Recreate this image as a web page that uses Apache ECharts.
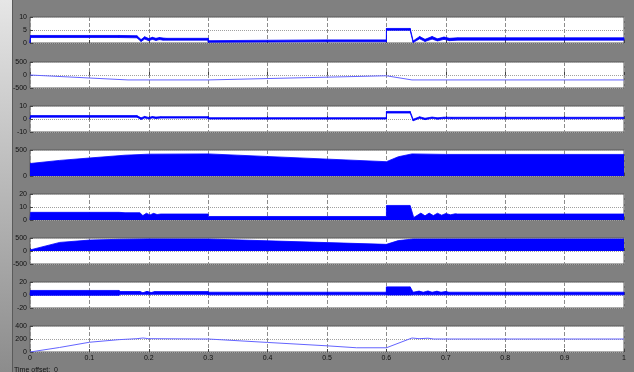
<!DOCTYPE html>
<html>
<head>
<meta charset="utf-8">
<script src="https://cdn.jsdelivr.net/npm/echarts/dist/echarts.min.js"></script>
<style>
  html, body { margin: 0; padding: 0; background: #808080; }
  #chart { width: 634px; height: 372px; }
</style>
</head>
<body>
<div id="chart"></div>
<script>
// x axis (time, s)
const xTicks = [0, 0.1, 0.2, 0.3, 0.4, 0.5, 0.6, 0.7, 0.8, 0.9, 1];

// y ranges per scope panel (top to bottom)
const yMin  = [0, -500, -10, 0, 0, -500, -20, 0];
const yMax  = [10, 500, 10, 500, 20, 500, 20, 400];
const yStep = [5, 500, 10, 500, 10, 500, 20, 200];

// panel 1 : fast ripple drawn as a band (low / high envelope)
const p1T  = [0, 0.001, 0.15, 0.18, 0.187, 0.193, 0.2, 0.206, 0.212, 0.218, 0.224, 0.23, 0.3, 0.3001, 0.5, 0.6, 0.6001, 0.64, 0.645, 0.656, 0.665, 0.677, 0.686, 0.697, 0.706, 0.72, 1];
const p1Lo = [0, 2.1, 2.1, 2.0, 0.6, 1.5, 0.9, 1.4, 1.0, 1.3, 1.1, 1.1, 1.1, 0.3, 0.5, 0.5, 4.9, 4.9, 0.2, 1.6, 0.6, 1.5, 0.8, 1.4, 0.9, 1.1, 1.1];
const p1Hi = [0, 2.9, 2.9, 2.8, 1.3, 2.4, 1.7, 2.2, 1.8, 2.1, 1.9, 1.8, 1.8, 0.9, 1.2, 1.2, 5.6, 5.6, 0.8, 2.5, 1.4, 2.5, 1.6, 2.3, 1.8, 2.0, 2.0];

// panel 2 : thin line
const p2T = [0, 0.165, 0.3, 0.6, 0.643, 1];
const p2V = [0, -190, -190, -30, -190, -190];

// panel 3 : band
const p3T  = [0, 0.001, 0.18, 0.187, 0.193, 0.2, 0.206, 0.212, 0.22, 0.3, 0.3001, 0.6, 0.6001, 0.64, 0.645, 0.656, 0.665, 0.677, 0.686, 0.697, 0.71, 1];
const p3Lo = [0, 1.4, 1.4, -0.3, 0.8, 0.1, 0.8, 0.4, 0.7, 0.7, 0, 0, 4.6, 4.6, -1.4, 0.6, -0.5, 0.5, -0.1, 0.4, 0.2, 0.2];
const p3Hi = [0, 2.6, 2.6, 0.9, 2.0, 1.2, 1.9, 1.5, 1.8, 1.8, 1.0, 1.0, 5.8, 5.8, -0.2, 1.7, 0.6, 1.5, 0.9, 1.4, 1.3, 1.3];

// panel 4 : filled envelope from 0
const p4T = [0, 0.05, 0.1, 0.16, 0.2, 0.3, 0.6, 0.62, 0.643, 0.7, 1];
const p4V = [240, 300, 346, 400, 420, 425, 275, 370, 425, 415, 415];

// panel 5 : filled envelope from 0
const p5T = [0, 0.001, 0.15, 0.16, 0.185, 0.19, 0.196, 0.202, 0.208, 0.214, 0.22, 0.3, 0.3001, 0.6, 0.6001, 0.64, 0.646, 0.658, 0.665, 0.672, 0.679, 0.686, 0.693, 0.7, 0.708, 0.716, 0.72, 1];
const p5V = [0, 5.9, 5.9, 5.6, 5.6, 3.4, 5.2, 3.9, 5.1, 4.2, 4.6, 4.6, 2.7, 2.7, 11.2, 11.2, 1.9, 5.3, 3.2, 5.3, 3.4, 5.2, 3.7, 5.0, 4.0, 4.8, 4.6, 4.6];

// panel 6 : filled envelope from 0
const p6T = [0, 0.05, 0.1, 0.15, 0.2, 0.3, 0.6, 0.62, 0.645, 0.7, 1];
const p6V = [40, 330, 420, 450, 465, 460, 255, 400, 460, 460, 460];

// panel 7 : band
const p7T  = [0, 0.001, 0.15, 0.1501, 0.185, 0.19, 0.197, 0.204, 0.21, 0.3, 0.3001, 0.6, 0.6001, 0.64, 0.645, 0.655, 0.662, 0.67, 0.677, 0.685, 0.692, 0.7, 0.705, 1];
const p7Lo = [0, -0.5, -0.5, 1.0, 1.0, 1.0, 1.0, 1.0, 1.0, 1.0, 0.3, 0.3, 0.0, 0.0, 0.3, 0.3, 0.3, 0.3, 0.3, 0.3, 0.3, 0.3, 0.3, 0.3];
const p7Hi = [0, 7.0, 7.0, 5.4, 5.4, 3.5, 5.6, 3.8, 5.2, 5.2, 4.3, 4.3, 12.5, 12.5, 4.3, 6.0, 4.3, 6.2, 4.3, 5.8, 4.3, 5.4, 4.3, 4.3];

// panel 8 : thin line
const p8T = [0, 0.05, 0.1, 0.15, 0.18, 0.19, 0.2, 0.3, 0.4, 0.5, 0.55, 0.6, 0.643, 0.655, 0.67, 0.68, 1];
const p8V = [0, 70, 150, 190, 205, 215, 205, 200, 147, 95, 65, 65, 215, 205, 212, 200, 200];

const BLUE = '#0000ff';
const THIN = '#6464ff';
const tops = [17, 62, 106, 150, 194, 238, 282, 326];
const H = 26;
const font = { fontSize: 7, color: '#111', fontFamily: 'Liberation Sans' };

const pairs = (t, v) => t.map((x, k) => [x, v[k]]);

// band between two envelopes: one quad per segment, placed by the axes
function band(i, t, lo, hi) {
  const segs = [];
  for (let k = 0; k < t.length - 1; k++) {
    segs.push([t[k], lo[k], hi[k], t[k + 1], lo[k + 1], hi[k + 1]]);
  }
  return {
    type: 'custom', xAxisIndex: i, yAxisIndex: i, silent: true,
    encode: { x: [0, 3], y: [1, 2, 4, 5] },
    data: segs,
    renderItem: function (params, api) {
      const a = api.coord([api.value(0), api.value(1)]);
      const b = api.coord([api.value(3), api.value(4)]);
      const c = api.coord([api.value(3), api.value(5)]);
      const d = api.coord([api.value(0), api.value(2)]);
      return { type: 'polygon', shape: { points: [a, b, c, d] },
        style: { fill: BLUE, stroke: BLUE, lineWidth: 0.8 } };
    }
  };
}
function area(i, t, v) {
  return { type: 'line', xAxisIndex: i, yAxisIndex: i, symbol: 'none', silent: true,
    lineStyle: { width: 0.8, color: BLUE }, areaStyle: { color: BLUE, opacity: 1, origin: 0 },
    data: pairs(t, v) };
}
function line(i, t, v) {
  return { type: 'line', xAxisIndex: i, yAxisIndex: i, symbol: 'none', silent: true,
    lineStyle: { width: 1, color: THIN }, data: pairs(t, v) };
}

const grids = [], xAxes = [], yAxes = [];
tops.forEach((top, i) => {
  grids.push({ left: 30, right: 10, top: top, height: H, show: true,
    backgroundColor: '#fff', borderColor: '#5a5a5a', borderWidth: 1 });
  xAxes.push({ type: 'value', gridIndex: i, min: 0, max: 1, interval: 0.1,
    axisLine: { show: false },
    axisTick: { show: true, inside: true, length: 3, lineStyle: { color: '#444' } },
    axisLabel: Object.assign({ show: i === tops.length - 1, margin: 3,
      formatter: v => xTicks.includes(+v.toFixed(1)) ? String(+v.toFixed(1)) : '' }, font),
    splitLine: { show: true, lineStyle: { color: '#8c8c8c', type: [4, 2], width: 1 } } });
  yAxes.push({ type: 'value', gridIndex: i, min: yMin[i], max: yMax[i], interval: yStep[i],
    axisLine: { show: false },
    axisTick: { show: true, inside: true, length: 3, lineStyle: { color: '#444' } },
    axisLabel: Object.assign({ margin: 3 }, font),
    splitLine: { show: true, lineStyle: { color: '#a0a0a0', type: 'dotted', width: 1 } } });
});

const series = [
  band(0, p1T, p1Lo, p1Hi),
  line(1, p2T, p2V),
  band(2, p3T, p3Lo, p3Hi),
  area(3, p4T, p4V),
  area(4, p5T, p5V),
  area(5, p6T, p6V),
  band(6, p7T, p7Lo, p7Hi),
  line(7, p8T, p8V)
];

const chart = echarts.init(document.getElementById('chart'), null, { renderer: 'canvas' });
chart.setOption({
  animation: false,
  backgroundColor: '#808080',
  grid: grids,
  xAxis: xAxes,
  yAxis: yAxes,
  series: series,
  graphic: [
    { type: 'rect', left: 0, top: 0, shape: { width: 12, height: 372 }, silent: true,
      style: { fill: new echarts.graphic.LinearGradient(0, 0, 0, 1, [
        { offset: 0, color: '#e6e6e6' }, { offset: 1, color: '#8c8c8c' }]) } },
    { type: 'rect', left: 12, top: 0, shape: { width: 1, height: 372 }, silent: true,
      style: { fill: '#5a5a5a' } },
    { type: 'text', left: 14, top: 367, silent: true,
      style: { text: 'Time offset:  0', fontSize: 7, fill: '#111', fontFamily: 'Liberation Sans' } }
  ]
});
</script>
</body>
</html>
